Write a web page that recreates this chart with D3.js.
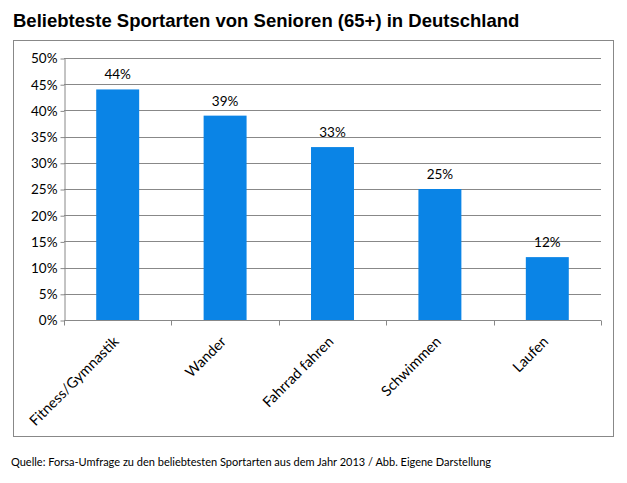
<!DOCTYPE html>
<html><head><meta charset="utf-8">
<script src="https://cdn.jsdelivr.net/npm/d3@7"></script>
<style>body{margin:0;background:#fff;}svg{display:block;}</style>
</head><body>
<svg id="c" width="627" height="483"></svg>
<script>
const categories = ["Fitness/Gymnastik", "Wander", "Fahrrad fahren", "Schwimmen", "Laufen"];
const values = [0.44, 0.39, 0.33, 0.25, 0.12];
const yTicks = [0, 0.05, 0.10, 0.15, 0.20, 0.25, 0.30, 0.35, 0.40, 0.45, 0.50];
const titleText = "Beliebteste Sportarten von Senioren (65+) in Deutschland";
const sourceText = "Quelle: Forsa-Umfrage zu den beliebtesten Sportarten aus dem Jahr 2013 / Abb. Eigene Darstellung";

(function () {
const svg = d3.select("#c");
const font = "Lato, 'Open Sans', sans-serif";
const pLeft = 64, pRight = 601, pTop = 58, pBottom = 320;

svg.append("text").attr("x", 13).attr("y", 27)
  .attr("font-family", "'Liberation Sans', Arial, sans-serif")
  .attr("font-weight", "bold").attr("font-size", 18.5).attr("fill", "#000")
  .text(titleText);

svg.append("rect").attr("x", 13.5).attr("y", 40.5).attr("width", 600).attr("height", 396)
  .attr("fill", "none").attr("stroke", "#888");

const x = d3.scaleBand().domain(categories).range([pLeft, pRight]).paddingInner(0.6).paddingOuter(0.3);
const y = d3.scaleLinear().domain([0, 0.5]).range([pBottom, pTop]);

svg.append("g").selectAll("line").data(yTicks.slice(1)).join("line")
  .attr("x1", pLeft).attr("x2", pRight)
  .attr("y1", d => Math.round(y(d)) + 0.5).attr("y2", d => Math.round(y(d)) + 0.5)
  .attr("stroke", "#888");

const yAxis = d3.axisLeft(y).tickValues(yTicks).tickFormat(d3.format(".0%")).tickSize(4).tickSizeOuter(0);
const gy = svg.append("g").attr("transform", `translate(${pLeft + 0.5},0.5)`).call(yAxis);
gy.selectAll("path,line").attr("stroke", "#888");
gy.selectAll("text").attr("font-family", font).attr("font-size", 13.5).attr("fill", "#000").attr("x", -7);

svg.append("g").selectAll("rect").data(categories).join("rect")
  .attr("x", d => x(d)).attr("width", x.bandwidth())
  .attr("y", (d, i) => y(values[i])).attr("height", (d, i) => pBottom - y(values[i]))
  .attr("fill", "#0a84e6");

const xb = d3.scaleBand().domain(categories).range([pLeft, pRight]);
const gx = svg.append("g").attr("transform", `translate(0,${pBottom + 0.5})`);
gx.append("line").attr("x1", pLeft).attr("x2", pRight).attr("stroke", "#888");
gx.selectAll("line.t").data(d3.range(categories.length + 1)).join("line").attr("class", "t")
  .attr("x1", i => Math.round(pLeft + i * xb.step()) + 0.5).attr("x2", i => Math.round(pLeft + i * xb.step()) + 0.5)
  .attr("y1", 0).attr("y2", 5).attr("stroke", "#888");
gx.selectAll("text").data(categories).join("text")
  .attr("transform", d => `translate(${x(d) + x.bandwidth() / 2 + 2},${22}) rotate(-45)`)
  .attr("text-anchor", "end").attr("font-family", font).attr("font-size", 14.5).attr("fill", "#000")
  .text(d => d);

svg.append("g").selectAll("text").data(categories).join("text")
  .attr("x", d => x(d) + x.bandwidth() / 2).attr("y", (d, i) => y(values[i]) - 10)
  .attr("text-anchor", "middle").attr("font-family", font).attr("font-size", 13.5).attr("fill", "#000")
  .text((d, i) => d3.format(".0%")(values[i]));

svg.append("text").attr("x", 11).attr("y", 466).attr("font-family", font).attr("font-size", 11)
  .attr("fill", "#000").text(sourceText);
})();
</script>
</body></html>
